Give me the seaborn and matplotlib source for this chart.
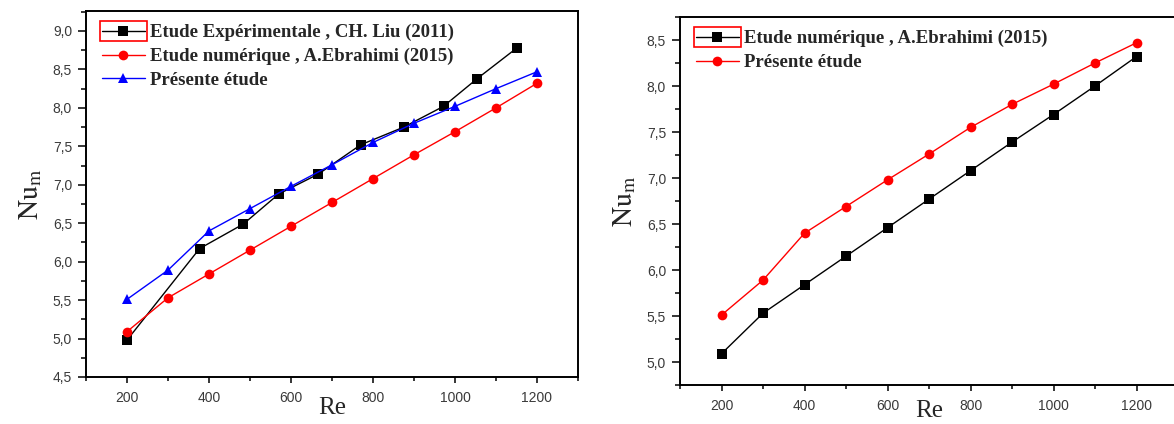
import numpy as np
import pandas as pd
import seaborn as sns
import matplotlib
matplotlib.use("Agg")
import matplotlib.pyplot as plt
from matplotlib.ticker import MultipleLocator, FuncFormatter
from matplotlib.patches import Rectangle

# Left panel: experimental data (CH. Liu 2011), numerical data (A. Ebrahimi 2015), present study
re_liu = [200, 377, 484, 570, 667, 770, 875, 972, 1054, 1151]
nu_liu = [4.98, 6.17, 6.49, 6.88, 7.14, 7.52, 7.75, 8.02, 8.38, 8.78]

re_num = [200, 300, 400, 500, 600, 700, 800, 900, 1000, 1100, 1200]
nu_ebrahimi = [5.09, 5.53, 5.84, 6.15, 6.46, 6.77, 7.08, 7.39, 7.69, 8.00, 8.32]
nu_present = [5.51, 5.89, 6.40, 6.69, 6.98, 7.26, 7.55, 7.80, 8.02, 8.25, 8.47]

label_liu = "Etude Expérimentale , CH. Liu (2011)"
label_ebr = "Etude numérique , A.Ebrahimi (2015)"
label_pres = "Présente étude"

sns.set_theme(style="ticks")
plt.rcParams["font.family"] = ["Liberation Sans", "DejaVu Sans"]
plt.rcParams["mathtext.fontset"] = "stix"

fig = plt.figure(figsize=(11.74, 4.24), dpi=100)
ax1 = fig.add_axes([86 / 1174, 47 / 424, 492 / 1174, 366 / 424])
ax2 = fig.add_axes([680 / 1174, 39 / 424, 498 / 1174, 368 / 424])

line_kw = dict(linewidth=1.0, markersize=7, markeredgewidth=0)

sns.lineplot(x=re_liu, y=nu_liu, ax=ax1, color="black", marker="s", label=label_liu, **line_kw)
sns.lineplot(x=re_num, y=nu_ebrahimi, ax=ax1, color="red", marker="o", label=label_ebr, **line_kw)
sns.lineplot(x=re_num, y=nu_present, ax=ax1, color="blue", marker="^", label=label_pres, **line_kw)

sns.lineplot(x=re_num, y=nu_ebrahimi, ax=ax2, color="black", marker="s", label=label_ebr, **line_kw)
sns.lineplot(x=re_num, y=nu_present, ax=ax2, color="red", marker="o", label=label_pres, **line_kw)

comma = FuncFormatter(lambda v, p: f"{v:.1f}".replace(".", ","))
tick_color = "#3a3a3a"

legends = []
for ax, ylim, xpad in ((ax1, (4.5, 9.26), -6), (ax2, (4.75, 8.75), -9)):
    ax.set_xlim(100, 1300)
    ax.set_ylim(*ylim)
    ax.xaxis.set_major_locator(MultipleLocator(200))
    ax.xaxis.set_minor_locator(MultipleLocator(100))
    ax.yaxis.set_major_locator(MultipleLocator(0.5))
    ax.yaxis.set_minor_locator(MultipleLocator(0.25))
    ax.yaxis.set_major_formatter(comma)
    ax.tick_params(axis="x", which="major", length=4, width=1.3, direction="out",
                   labelsize=10, labelcolor=tick_color, pad=6)
    ax.tick_params(axis="x", which="minor", length=3, width=1.3, direction="out")
    ax.tick_params(axis="y", which="major", length=6, width=1.3, direction="out",
                   labelsize=10, labelcolor=tick_color, pad=4)
    ax.tick_params(axis="y", which="minor", length=3.5, width=1.3, direction="out")
    ax.tick_params(top=False, right=False, which="both")
    for s in ax.spines.values():
        s.set_visible(True)
        s.set_linewidth(1.4)
        s.set_color("black")
    ax.set_xlabel("Re", fontfamily="Liberation Serif", fontsize=18, labelpad=xpad)
    ax.set_ylabel(r"$\mathrm{Nu_m}$", fontsize=20, labelpad=6)
    leg = ax.legend(loc="upper left", bbox_to_anchor=(0.005, 1.0), frameon=False,
                    prop=dict(family="Liberation Serif", weight="bold", size=13.5),
                    handlelength=2.3, handletextpad=0.3, labelspacing=0.35,
                    borderaxespad=0.3)
    legends.append((ax, leg))

# selection outline around the first legend handle of each panel
fig.canvas.draw()
inv = fig.transFigure.inverted()
for ax, leg in legends:
    h = leg.legend_handles[0]
    pts = h.get_transform().transform(h.get_xydata())
    xmin, xmax = pts[:, 0].min(), pts[:, 0].max()
    ymid = pts[:, 1].mean()
    x0, y0 = inv.transform((xmin - 2, ymid - 10))
    x1, y1 = inv.transform((xmax + 2, ymid + 10))
    fig.patches.append(Rectangle((x0, y0), x1 - x0, y1 - y0, transform=fig.transFigure,
                                 fill=False, edgecolor="red", linewidth=1.2))

fig.savefig("out.png", dpi=100)
